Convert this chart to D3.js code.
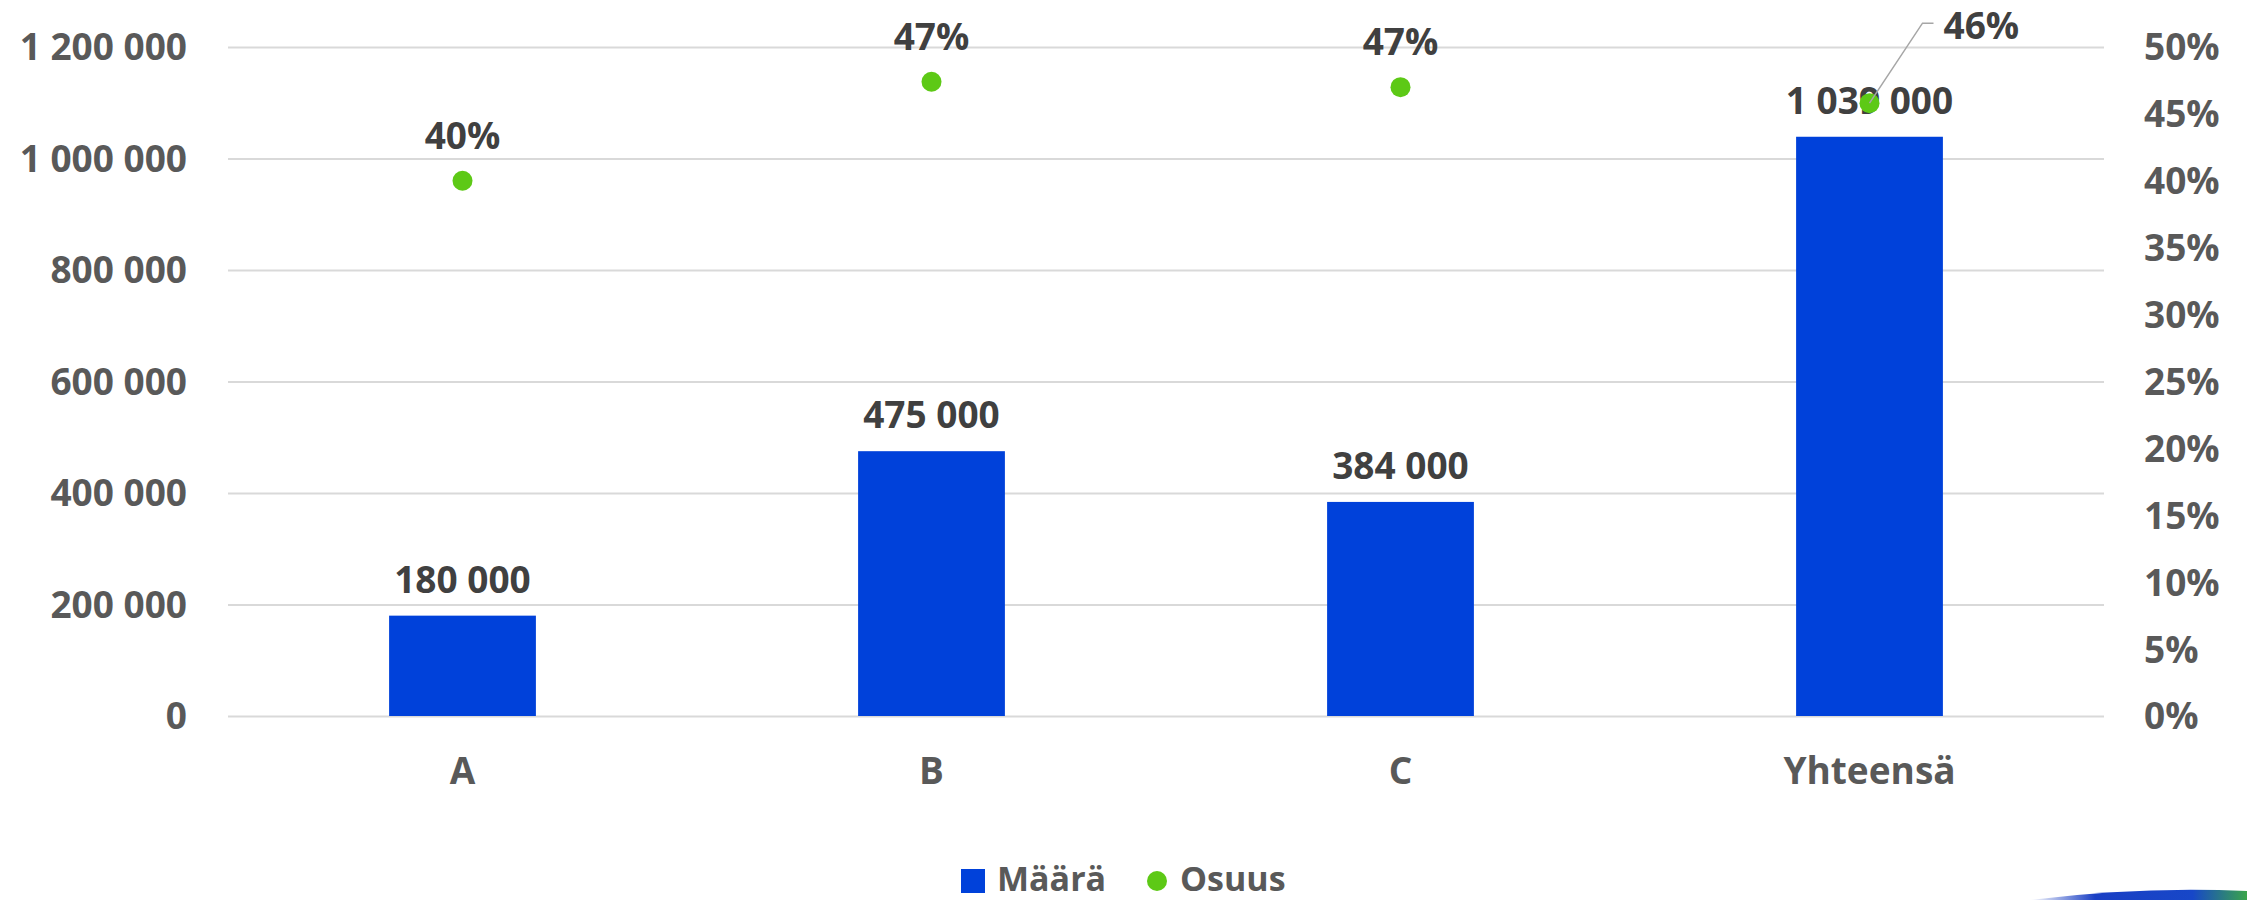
<!DOCTYPE html>
<html>
<head>
<meta charset="utf-8">
<script src="https://cdn.jsdelivr.net/npm/d3@7"></script>
<style>
  html, body { margin: 0; padding: 0; background: #fff; }
  svg { display: block; }
  text { font-family: "Open Sans", "Noto Sans", sans-serif; font-weight: 700; }
</style>
</head>
<body>
<svg id="chart" width="2247" height="900"></svg>
<script>
const categories = ["A", "B", "C", "Yhteensä"];
const maaraValues = [180000, 475000, 384000, 1039000];
const osuusValues = [0.40, 0.474, 0.470, 0.458];
const osuusLabels = ["40%", "47%", "47%", "46%"];
const leftTicks = [0, 200000, 400000, 600000, 800000, 1000000, 1200000];
const rightTicks = [0, 0.05, 0.10, 0.15, 0.20, 0.25, 0.30, 0.35, 0.40, 0.45, 0.50];
const seriesNames = ["Määrä", "Osuus"];

const W = 2247, H = 900;
const plot = { left: 228, right: 2104, top: 47, bottom: 716 };
const barColor = "#0041DA";
const dotColor = "#5DC916";
const axisText = "#595959";
const labelText = "#404040";
const fontSize = 37;

const svg = d3.select("#chart");

const x = d3.scaleBand().domain(categories)
  .range([plot.left, plot.right])
  .paddingInner(0.687).paddingOuter(0.3435);
const y = d3.scaleLinear().domain([0, 1200000]).range([plot.bottom, plot.top]);
const y2 = d3.scaleLinear().domain([0, 0.5]).range([plot.bottom, plot.top]);

const fmtNum = d => d3.format(",")(d).replace(/,/g, " ");

// gridlines
const grid = svg.append("g")
  .attr("transform", `translate(${plot.left},0)`)
  .call(d3.axisLeft(y).tickValues(leftTicks).tickSize(-(plot.right - plot.left)).tickFormat(""));
grid.select(".domain").remove();
grid.selectAll("line").attr("stroke", "#d9d9d9").attr("stroke-width", 2);

// left axis
const la = svg.append("g")
  .attr("transform", `translate(${plot.left},0)`)
  .call(d3.axisLeft(y).tickValues(leftTicks).tickSize(0).tickPadding(41).tickFormat(fmtNum));
la.select(".domain").remove();
la.selectAll("text").attr("fill", axisText).attr("font-size", fontSize)
  .attr("font-family", "'Open Sans', sans-serif").attr("font-weight", 700)
  .attr("dy", "0.35em");

// right axis
const ra = svg.append("g")
  .attr("transform", `translate(${plot.right},0)`)
  .call(d3.axisRight(y2).tickValues(rightTicks).tickSize(0).tickPadding(40).tickFormat(d3.format(".0%")));
ra.select(".domain").remove();
ra.selectAll("text").attr("fill", axisText).attr("font-size", fontSize)
  .attr("font-family", "'Open Sans', sans-serif").attr("font-weight", 700)
  .attr("dy", "0.35em");

// bottom axis
const ba = svg.append("g")
  .attr("transform", `translate(0,${plot.bottom})`)
  .call(d3.axisBottom(x).tickSize(0).tickPadding(42));
ba.select(".domain").remove();
ba.selectAll("text").attr("fill", axisText).attr("font-size", fontSize)
  .attr("font-family", "'Open Sans', sans-serif").attr("font-weight", 700);

const data = categories.map((c, i) => ({ c, v: maaraValues[i], p: osuusValues[i], pl: osuusLabels[i] }));

// bars
svg.append("g").selectAll("rect").data(data).join("rect")
  .attr("x", d => x(d.c))
  .attr("width", x.bandwidth())
  .attr("y", d => y(d.v))
  .attr("height", d => y(0) - y(d.v))
  .attr("fill", barColor);

// bar labels
svg.append("g").selectAll("text").data(data).join("text")
  .attr("x", d => x(d.c) + x.bandwidth() / 2)
  .attr("y", d => y(d.v) - 23)
  .attr("text-anchor", "middle")
  .attr("fill", labelText)
  .attr("font-size", fontSize)
  .text(d => fmtNum(d.v));

// dots
svg.append("g").selectAll("circle").data(data).join("circle")
  .attr("cx", d => x(d.c) + x.bandwidth() / 2)
  .attr("cy", d => y2(d.p))
  .attr("r", 10)
  .attr("fill", dotColor);

// percent labels
const last = data.length - 1;
svg.append("g").selectAll("text").data(data).join("text")
  .attr("x", (d, i) => i === last ? x(d.c) + x.bandwidth() / 2 + 74 : x(d.c) + x.bandwidth() / 2)
  .attr("y", (d, i) => i === last ? y2(d.p) - 64 : y2(d.p) - 32)
  .attr("text-anchor", (d, i) => i === last ? "start" : "middle")
  .attr("fill", labelText)
  .attr("font-size", fontSize)
  .text(d => d.pl);

// leader line for the last percent label
{
  const d = data[last];
  const cx = x(d.c) + x.bandwidth() / 2, cy = y2(d.p);
  svg.append("path")
    .attr("d", `M${cx},${cy} L${cx + 53},${cy - 80} L${cx + 64},${cy - 80}`)
    .attr("fill", "none").attr("stroke", "#a6a6a6").attr("stroke-width", 1.5);
}

// legend
const lg = svg.append("g");
lg.append("rect").attr("x", 961).attr("y", 869).attr("width", 24).attr("height", 24).attr("fill", barColor);
lg.append("text").attr("x", 997).attr("y", 891).attr("fill", axisText).attr("font-size", 34).text(seriesNames[0]);
lg.append("circle").attr("cx", 1157).attr("cy", 881).attr("r", 10).attr("fill", dotColor);
lg.append("text").attr("x", 1180).attr("y", 891).attr("fill", axisText).attr("font-size", 34).text(seriesNames[1]);

// decorative swoosh at bottom right
const defs = svg.append("defs");
const gr = defs.append("linearGradient").attr("id", "sw").attr("x1", "0").attr("x2", "1");
gr.append("stop").attr("offset", "0").attr("stop-color", "#ffffff");
gr.append("stop").attr("offset", "0.3").attr("stop-color", "#1a3fc4");
gr.append("stop").attr("offset", "0.75").attr("stop-color", "#1747c8");
gr.append("stop").attr("offset", "1").attr("stop-color", "#3aa54a");
svg.append("path")
  .attr("d", "M2030,900 Q2140,886 2247,891 L2247,900 Z")
  .attr("fill", "url(#sw)");
</script>
</body>
</html>
